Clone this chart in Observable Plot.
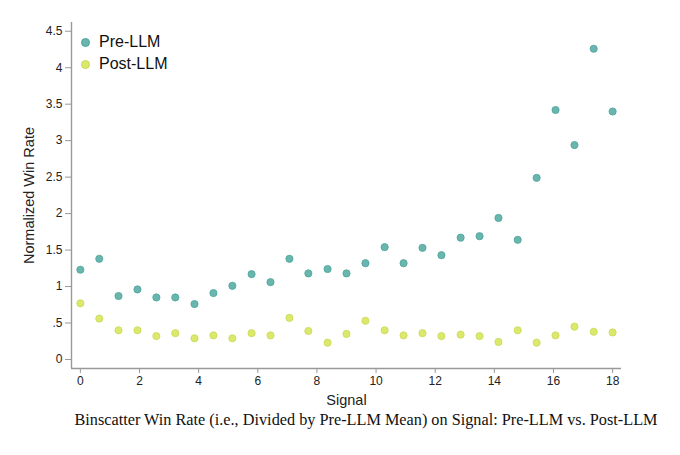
<!DOCTYPE html>
<html>
<head>
<meta charset="utf-8">
<script src="https://cdn.jsdelivr.net/npm/d3@7"></script>
<script src="https://cdn.jsdelivr.net/npm/@observablehq/plot@0.6"></script>
<style>
  body { margin: 0; background: #fff; }
  #wrap { position: relative; width: 680px; }
  .legend { position: absolute; left: 81px; font-family: "Liberation Sans", Arial, sans-serif; font-size: 16px; color: #111; display: flex; align-items: center; }
  .legend span.sw { display: inline-block; width: 7px; height: 7px; border-radius: 50%; margin-right: 9px; }
  #caption { font-family: "Liberation Serif", "DejaVu Serif", serif; font-size: 16.25px; color: #111; text-align: center; width: 680px; padding-left: 52px; box-sizing: border-box; margin-top: 0px; line-height: 20px; }
</style>
</head>
<body>
<div id="wrap"></div>
<script>
const signal = [0, 0.64, 1.29, 1.93, 2.57, 3.21, 3.86, 4.5, 5.14, 5.79, 6.43, 7.07, 7.71, 8.36, 9.0, 9.64, 10.29, 10.93, 11.57, 12.21, 12.86, 13.5, 14.14, 14.79, 15.43, 16.07, 16.71, 17.36, 18];
const preLLM = [1.23, 1.38, 0.87, 0.96, 0.85, 0.85, 0.76, 0.91, 1.01, 1.17, 1.06, 1.38, 1.18, 1.24, 1.18, 1.32, 1.54, 1.32, 1.53, 1.43, 1.67, 1.69, 1.94, 1.64, 2.49, 3.42, 2.94, 4.26, 3.40];
const postLLM = [0.77, 0.56, 0.40, 0.40, 0.32, 0.36, 0.29, 0.33, 0.29, 0.36, 0.33, 0.57, 0.39, 0.23, 0.35, 0.53, 0.40, 0.33, 0.36, 0.32, 0.34, 0.32, 0.24, 0.40, 0.23, 0.33, 0.45, 0.38, 0.37];
const xTicks = [0, 2, 4, 6, 8, 10, 12, 14, 16, 18];
const yTicks = [0, 0.5, 1, 1.5, 2, 2.5, 3, 3.5, 4, 4.5];
const yTickLabels = ["0", ".5", "1", "1.5", "2", "2.5", "3", "3.5", "4", "4.5"];
const seriesNames = ["Pre-LLM", "Post-LLM"];
const seriesFill = ["#68b6ae", "#dbe86c"];
const seriesStroke = ["#4ea39b", "#c9d958"];
const xDomain = [-0.3, 18.3];
const yDomain = [-0.124, 4.62];

const pre = signal.map((s, i) => ({signal: s, value: preLLM[i]}));
const post = signal.map((s, i) => ({signal: s, value: postLLM[i]}));

const chart = Plot.plot({
  width: 680,
  height: 410,
  marginLeft: 71,
  marginRight: 59,
  marginTop: 22,
  marginBottom: 42,
  style: {fontFamily: "'Liberation Sans', Arial, sans-serif", fontSize: "12px", color: "#222", background: "#fff"},
  x: {domain: xDomain},
  y: {domain: yDomain},
  marks: [
    Plot.axisX({ticks: xTicks, tickSize: 5, tickPadding: 3, stroke: "#999", label: null, fontSize: 12}),
    Plot.axisX({ticks: [], label: "Signal", labelAnchor: "center", labelArrow: "none", labelOffset: 36, fontSize: 14.5}),
    Plot.axisY({ticks: yTicks, tickSize: 6, tickPadding: 3, stroke: "#999", tickFormat: (d) => yTickLabels[yTicks.indexOf(d)], label: null, fontSize: 12}),
    Plot.axisY({ticks: [], label: "Normalized Win Rate", labelAnchor: "center", labelArrow: "none", labelOffset: 48, fontSize: 14.5}),
    Plot.ruleX([xDomain[0]], {stroke: "#999", strokeWidth: 1.4}),
    Plot.ruleY([yDomain[0]], {stroke: "#999", strokeWidth: 1.4}),
    Plot.dot(pre, {x: "signal", y: "value", r: 3.6, fill: seriesFill[0], stroke: seriesStroke[0], strokeWidth: 0.8}),
    Plot.dot(post, {x: "signal", y: "value", r: 3.6, fill: seriesFill[1], stroke: seriesStroke[1], strokeWidth: 0.8})
  ]
});

const wrap = document.getElementById("wrap");
wrap.appendChild(chart);

seriesNames.forEach((name, i) => {
  const d = document.createElement("div");
  d.className = "legend";
  d.style.top = (33 + i * 22) + "px";
  d.innerHTML = `<span class="sw" style="background:${seriesFill[i]};border:0.8px solid ${seriesStroke[i]}"></span>${name}`;
  wrap.appendChild(d);
});

const cap = document.createElement("div");
cap.id = "caption";
cap.textContent = "Binscatter Win Rate (i.e., Divided by Pre-LLM Mean) on Signal: Pre-LLM vs. Post-LLM";
document.body.appendChild(cap);
</script>
</body>
</html>
